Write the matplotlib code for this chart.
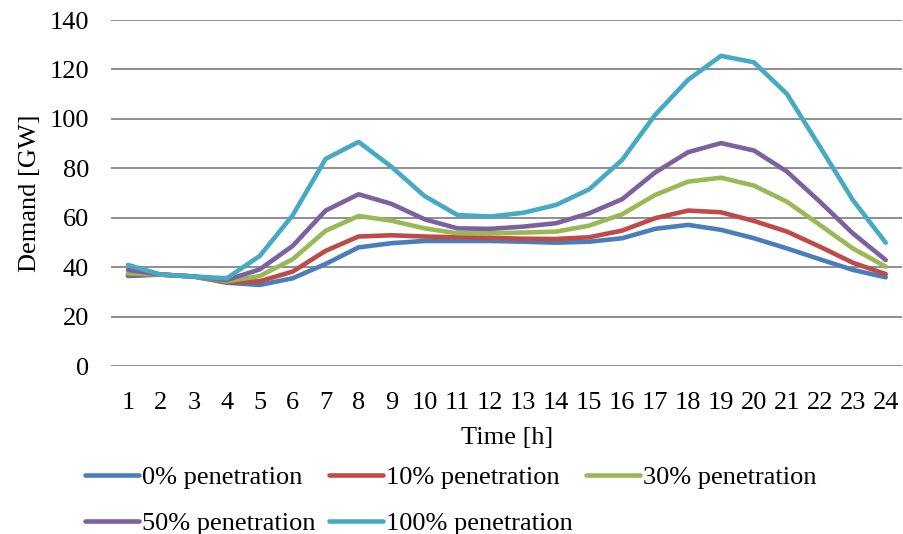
import matplotlib
matplotlib.use("Agg")
import matplotlib.pyplot as plt

# data
hours = list(range(1, 25))
p0 = [36.4, 37.0, 36.2, 33.7, 32.8, 35.5, 41.3, 48.0, 49.7, 50.6, 50.6, 50.6,
      50.3, 49.9, 50.3, 51.7, 55.5, 57.1, 55.1, 51.7, 47.6, 43.2, 38.9, 35.9]
p10 = [37.0, 37.0, 36.2, 33.9, 34.3, 38.2, 46.6, 52.4, 52.9, 52.4, 52.1, 51.9,
       51.5, 51.4, 52.1, 54.8, 59.8, 62.9, 62.2, 58.7, 54.4, 48.3, 41.8, 37.2]
p30 = [37.5, 37.0, 36.2, 34.3, 36.4, 43.2, 54.7, 60.7, 58.8, 55.7, 53.7, 53.7,
       54.0, 54.4, 56.8, 61.4, 69.2, 74.6, 76.2, 73.0, 66.5, 57.1, 47.6, 40.2]
p50 = [38.9, 37.0, 36.2, 34.8, 39.1, 48.6, 62.9, 69.5, 65.6, 59.4, 55.7, 55.5,
       56.4, 57.8, 61.8, 67.5, 78.3, 86.5, 90.2, 87.2, 78.7, 66.5, 53.7, 42.9]
p100 = [40.9, 37.0, 36.2, 35.5, 44.5, 61.0, 83.8, 90.7, 80.6, 68.8, 61.1, 60.5,
        62.0, 65.2, 71.5, 83.4, 101.6, 115.8, 125.5, 122.9, 110.1, 88.8, 67.2, 49.9]

series = [p0, p10, p30, p50, p100]
labels = ["0% penetration", "10% penetration", "30% penetration",
          "50% penetration", "100% penetration"]
colors = ["#4A7EBB", "#BE4B48", "#98B954", "#7D60A0", "#46AAC5"]

plt.rcParams["font.family"] = ["Liberation Serif", "DejaVu Serif"]
FS = 19

fig = plt.figure(figsize=(9.04, 5.34), dpi=100)
ax = fig.add_axes([0.1233, 0.3146, 0.8747, 0.6479])

handles = []
for ys, lab, c in zip(series, labels, colors):
    h, = ax.plot(hours, ys, color=c, lw=3.3, label=lab, solid_capstyle="round",
                 solid_joinstyle="round")
    handles.append(h)

ax.set_xlim(0.5, 24.5)
ax.set_ylim(0, 140)
ax.set_yticks(range(0, 141, 20))
ax.set_xticks(hours)
ax.grid(axis="y", color="#868686", lw=1.3)
ax.set_axisbelow(True)
for s in ax.spines.values():
    s.set_visible(False)
ax.tick_params(length=0, labelsize=FS)
ax.tick_params(axis="x", pad=19)
ax.tick_params(axis="y", pad=16)
ax.set_xlabel("Time [h]", fontsize=FS, labelpad=9)
ax.set_ylabel("Demand [GW]", fontsize=FS, labelpad=6)

# Excel fills legend row by row; matplotlib fills by column
order = [0, 3, 1, 4, 2]
fig.legend([handles[i] for i in order], [labels[i] for i in order],
           ncol=3, loc="upper left", bbox_to_anchor=(0.082, 0.148),
           frameon=False, fontsize=FS, handlelength=2.05, handletextpad=0.12,
           columnspacing=0.5, labelspacing=0.85, borderaxespad=0)

fig.savefig("out.png", dpi=100)
